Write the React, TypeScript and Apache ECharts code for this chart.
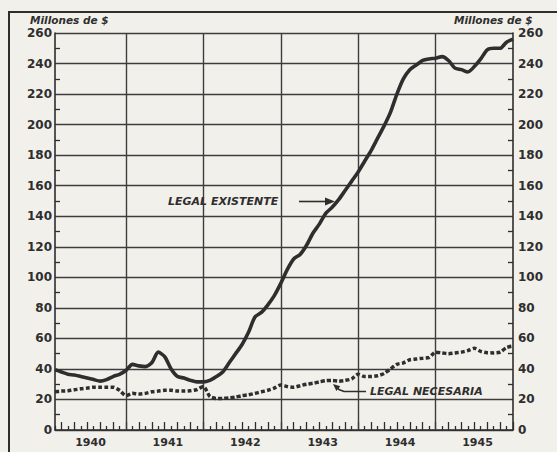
import React, { useEffect, useRef } from "react";
import * as echarts from "echarts";

// Month index: 0 = 1 Jan 1940, 12 = 1 Jan 1941, ... 72 = end of 1945
const MONTHS = [
  1, 2, 3, 4, 5, 6, 7, 8, 9, 10, 11, 12,
  13, 14, 15, 16, 17, 18, 19, 20, 21, 22, 23, 24,
  25, 26, 27, 28, 29, 30, 31, 32, 33, 34, 35, 36,
  37, 38, 39, 40, 41, 42, 43, 44, 45, 46, 47, 48,
  49, 50, 51, 52, 53, 54, 55, 56, 57, 58, 59, 60,
  61, 62, 63, 64, 65, 66, 67, 68, 69, 70, 71, 72,
];

// "Legal existente" (millones de $)
const LEGAL_EXISTENTE = [
  39.5, 38, 36.5, 36, 35, 34, 33, 32, 33, 35, 36.5, 39,
  43, 42, 41.5, 44, 51, 48, 40, 35, 34, 32.5, 31.5, 31.5,
  32.5, 35, 38, 44, 50, 56, 64, 74, 77, 82, 88, 96,
  105, 112, 115, 121, 129, 135, 142, 146, 151, 157, 163, 169,
  176, 183, 191, 199, 208, 220, 230, 236, 239, 242, 243, 243.5,
  244.5, 242, 237, 236, 234.5, 238, 243, 249, 250, 250, 254, 256,
];

// "Legal necesaria" (millones de $)
const LEGAL_NECESARIA = [
  25, 25.5, 25.7, 26.3, 27, 27.5, 28, 28, 28, 28, 26, 22.5,
  24, 23.6, 24, 25, 25.5, 26, 26, 25.5, 25.5, 25.7, 26.5, 28.5,
  22, 20.7, 20.7, 21, 21.5, 22.5, 23, 24, 25, 26, 27.5, 29.5,
  28.5, 28, 29, 30, 30.6, 31.5, 32.3, 32.5, 32, 32.5, 33.5, 36.5,
  35, 35, 35.5, 37, 40, 43, 44, 46, 46.5, 47, 47.6, 51,
  50.5, 50, 50.5, 51, 52, 53.5, 51.5, 50.6, 50.5, 51, 54, 55,
];

const YEAR_LABEL_POS = [6.5, 18.5, 30.5, 42.5, 54.5, 66.5];
const YEAR_LABELS = ["1940", "1941", "1942", "1943", "1944", "1945"];
const YEAR_BOUNDARIES = [12, 24, 36, 48, 60];
const SHORT_TICKS = MONTHS.filter((m) => m % 2 === 1);
const LONG_TICKS = MONTHS.filter((m) => m % 2 === 0);

const INK = "#2e2e2e";
const GRID = "#3d3d3d";
const BG = "#f2f0eb";
const FONT = '"DejaVu Sans", sans-serif';

export default function App() {
  const ref = useRef<HTMLDivElement>(null);

  useEffect(() => {
    document.body.style.margin = "0";
    const chart = echarts.init(ref.current!, undefined, { renderer: "svg" });

    const existente = MONTHS.map((m, i) => [m, LEGAL_EXISTENTE[i]]);
    const necesaria = MONTHS.map((m, i) => [m, LEGAL_NECESARIA[i]]);

    const yAxisCommon = {
      type: "value",
      min: 0,
      max: 260,
      interval: 20,
      axisLine: { show: true, lineStyle: { color: INK, width: 1.6 } },
      axisTick: { show: false, inside: true, length: 5, lineStyle: { color: INK, width: 1.3 } },
      minorTick: { show: true, splitNumber: 2, length: 5, lineStyle: { color: INK, width: 1.3 } },
      axisLabel: {
        color: INK,
        fontSize: 12,
        fontWeight: "bold",
        fontFamily: FONT,
      },
    };

    chart.setOption({
      animation: false,
      backgroundColor: BG,
      grid: { left: 55, right: 44, top: 33, bottom: 22, containLabel: false },
      xAxis: [
        {
          type: "value",
          min: 1,
          max: 72,
          position: "bottom",
          axisLine: { show: true, lineStyle: { color: INK, width: 1.6 } },
          splitLine: { show: false },
          axisTick: {
            show: true,
            inside: true,
            length: 4,
            customValues: SHORT_TICKS,
            lineStyle: { color: INK, width: 1.3 },
          },
          axisLabel: {
            show: true,
            customValues: YEAR_LABEL_POS,
            formatter: (v: number) => {
              const idx = YEAR_LABEL_POS.indexOf(v);
              return idx >= 0 ? YEAR_LABELS[idx] : "";
            },
            color: INK,
            fontSize: 11,
            fontWeight: "bold",
            fontFamily: FONT,
            margin: 7,
          },
        },
        {
          type: "value",
          min: 1,
          max: 72,
          position: "bottom",
          axisLine: { show: false },
          splitLine: { show: false },
          axisTick: {
            show: true,
            inside: true,
            length: 8,
            customValues: LONG_TICKS,
            lineStyle: { color: INK, width: 1.3 },
          },
          axisLabel: { show: false },
        },
      ],
      yAxis: [
        {
          ...yAxisCommon,
          position: "left",
          splitLine: { show: true, lineStyle: { color: GRID, width: 1.3 } },
          axisLabel: { ...yAxisCommon.axisLabel, margin: 3 },
        },
        {
          ...yAxisCommon,
          position: "right",
          splitLine: { show: false },
          axisLabel: { ...yAxisCommon.axisLabel, margin: 5 },
        },
      ],
      series: [
        {
          name: "Legal necesaria",
          type: "line",
          xAxisIndex: 0,
          yAxisIndex: 0,
          data: necesaria,
          showSymbol: false,
          smooth: 0.25,
          z: 3,
          lineStyle: { color: INK, width: 3.5, type: [4, 2.2] },
          markLine: {
            silent: true,
            z: 1,
            symbol: ["none", "none"],
            label: { show: false },
            lineStyle: { color: GRID, width: 1.4, type: "solid" },
            data: YEAR_BOUNDARIES.map((b) => ({ xAxis: b })),
          },
        },
        {
          name: "Legal existente",
          type: "line",
          xAxisIndex: 0,
          yAxisIndex: 0,
          data: existente,
          showSymbol: false,
          smooth: 0.25,
          z: 4,
          lineStyle: { color: INK, width: 3.6 },
        },
      ],
      graphic: [
        {
          type: "rect",
          silent: true,
          shape: { x: 9, y: 12, width: 560, height: 460 },
          style: { fill: "none", stroke: INK, lineWidth: 2 },
        },
        {
          type: "text",
          left: 30,
          top: 14,
          style: {
            text: "Millones de $",
            font: `italic bold 10.5px ${FONT}`,
            fill: INK,
          },
        },
        {
          type: "text",
          left: 454,
          top: 14,
          style: {
            text: "Millones de $",
            font: `italic bold 10.5px ${FONT}`,
            fill: INK,
          },
        },
        {
          type: "text",
          x: 168,
          y: 201,
          style: {
            text: "LEGAL EXISTENTE",
            font: `italic bold 11px ${FONT}`,
            fill: INK,
            verticalAlign: "middle",
            align: "left",
          },
          z: 10,
        },
        {
          type: "polyline",
          silent: true,
          shape: { points: [[299, 201.5], [328, 201.5]] },
          style: { stroke: INK, lineWidth: 1.6, fill: "none" },
          z: 10,
        },
        {
          type: "polygon",
          silent: true,
          shape: { points: [[335, 201.5], [325, 197.5], [325, 205.5]] },
          style: { fill: INK },
          z: 10,
        },
        {
          type: "text",
          x: 370,
          y: 391,
          style: {
            text: "LEGAL NECESARIA",
            font: `italic bold 11px ${FONT}`,
            fill: INK,
            verticalAlign: "middle",
            align: "left",
          },
          z: 10,
        },
        {
          type: "polyline",
          silent: true,
          shape: { points: [[366, 391.5], [344, 391.5], [339, 389.5], [337, 387.5]] },
          style: { stroke: INK, lineWidth: 1.6, fill: "none" },
          z: 10,
        },
        {
          type: "polygon",
          silent: true,
          shape: { points: [[333, 384], [340.3, 386.3], [336.4, 390.9]] },
          style: { fill: INK },
          z: 10,
        },
      ],
    });

    return () => chart.dispose();
  }, []);

  return <div ref={ref} style={{ width: 557, height: 452 }} />;
}
